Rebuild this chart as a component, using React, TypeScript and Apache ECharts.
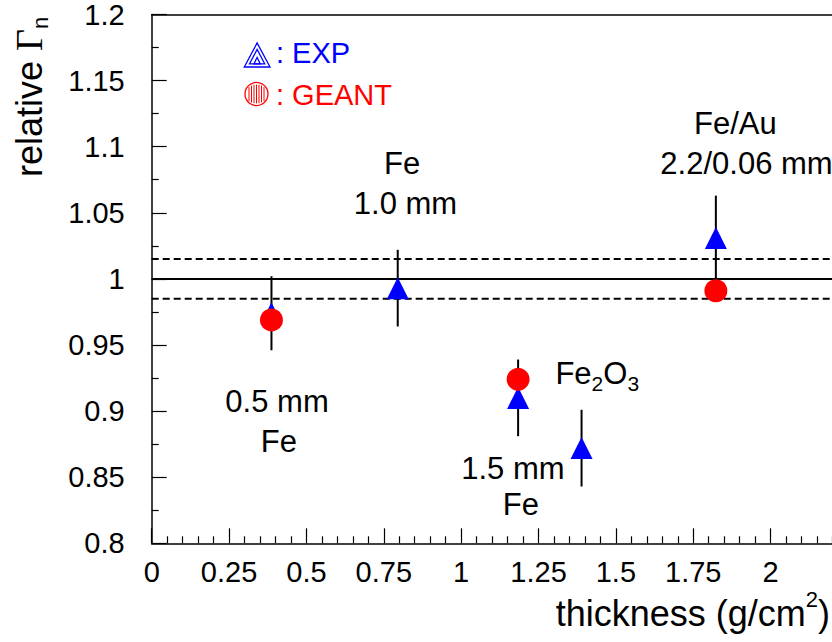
import React, { useEffect, useRef } from "react";
import * as echarts from "echarts";

const FONT = '"Liberation Sans", Arial, Helvetica, sans-serif';

// EXP (blue triangles) with vertical error bars
const expX = [0.387, 0.795, 1.184, 1.389, 1.823];
const expY = [0.974, 0.993, 0.910, 0.872, 1.031];
const expErr = [0.028, 0.029, 0.029, 0.029, 0.032];

// GEANT (red circles)
const geantX = [0.387, 1.184, 1.823];
const geantY = [0.969, 0.924, 0.991];

// reference levels
const refSolid = [1.0];
const refDashed = [0.985, 1.015];

// axis ranges and tick labels
const xMin = 0;
const xMax = 2.25;
const xTickValues = [0, 0.25, 0.5, 0.75, 1, 1.25, 1.5, 1.75, 2];
const yTickValues = [0.8, 0.85, 0.9, 0.95, 1, 1.05, 1.1, 1.15, 1.2];

// text annotations (data coordinates)
const annotX = [0.809, 0.82, 0.405, 0.411, 1.167, 1.193, 1.886, 1.922];
const annotY = [1.0874, 1.0571, 0.9075, 0.8772, 0.8568, 0.8296, 1.1176, 1.0874];
const annotText = ["Fe", "1.0 mm", "0.5 mm", "Fe", "1.5 mm", "Fe", "Fe/Au", "2.2/0.06 mm"];
const formulaPos = [1.303, 0.9283];
const formulaParts = ["Fe", "2", "O", "3"];

export default function App() {
  const ref = useRef<HTMLDivElement>(null);

  useEffect(() => {
    const chart = echarts.init(ref.current!, null, { renderer: "svg" });

    const errData = expX.map((x, i) => [x, expY[i], expErr[i]]);

    // legend icon decorations
    const cx = 256.5, cy = 94, r = 11.5;
    const hatch: any[] = [];
    for (let dx = -7.5; dx <= 7.6; dx += 2.5) {
      const h = Math.sqrt(r * r - dx * dx) * 0.82;
      hatch.push({
        type: "line",
        silent: true,
        shape: { x1: cx + dx, y1: cy - h, x2: cx + dx, y2: cy + h },
        style: { stroke: "#ff0000", lineWidth: 1 },
      });
    }

    const refLineSeries = [
      ...refSolid.map((v) => ({ v, dash: "solid" as any })),
      ...refDashed.map((v) => ({ v, dash: [7, 4] as any })),
    ].map((d) => ({
      type: "line",
      silent: true,
      z: 1,
      symbol: "none",
      lineStyle: { color: "#000", width: 2, type: d.dash },
      data: [
        [xMin, d.v],
        [xMax, d.v],
      ],
    }));

    const option: any = {
      animation: false,
      backgroundColor: "#ffffff",
      textStyle: { fontFamily: FONT },
      grid: { left: 151.7, top: 14, right: 0, bottom: 98.7, containLabel: false },
      xAxis: [
        {
          type: "value",
          min: xMin,
          max: xMax,
          interval: 0.25,
          axisLine: { show: true, onZero: false, lineStyle: { color: "#000", width: 1.5 } },
          axisTick: { show: true, inside: true, length: 15, lineStyle: { color: "#000", width: 1.2 } },
          minorTick: { show: true, splitNumber: 5, length: 7, lineStyle: { color: "#000", width: 1.2 } },
          splitLine: { show: false },
          axisLabel: {
            show: true,
            margin: 14,
            color: "#000",
            fontSize: 29,
            fontFamily: FONT,
            showMaxLabel: false,
            formatter: (v: number) => {
              const m = xTickValues.find((t) => Math.abs(t - v) < 1e-6);
              return m === undefined ? "" : String(m);
            },
          },
        },
        {
          type: "value",
          position: "top",
          min: xMin,
          max: xMax,
          axisLine: { show: true, onZero: false, lineStyle: { color: "#000", width: 1.5 } },
          axisTick: { show: false },
          axisLabel: { show: false },
          splitLine: { show: false },
        },
      ],
      yAxis: {
        type: "value",
        min: 0.8,
        max: 1.2,
        interval: 0.05,
        axisLine: { show: true, onZero: false, lineStyle: { color: "#000", width: 1.5 } },
        axisTick: { show: true, inside: true, length: 15, lineStyle: { color: "#000", width: 1.2 } },
        minorTick: { show: true, splitNumber: 2, length: 7, lineStyle: { color: "#000", width: 1.2 } },
        splitLine: { show: false },
        axisLabel: {
          margin: 27,
          color: "#000",
          fontSize: 29,
          fontFamily: FONT,
          formatter: (v: number) => {
            const m = yTickValues.find((t) => Math.abs(t - v) < 1e-6);
            return m === undefined ? "" : String(m);
          },
        },
      },
      series: [
        ...refLineSeries,
        {
          type: "custom",
          z: 2,
          silent: true,
          data: errData,
          renderItem: (params: any, api: any) => {
            const x = api.value(0);
            const y = api.value(1);
            const e = api.value(2);
            const p1 = api.coord([x, y + e]);
            const p2 = api.coord([x, y - e]);
            return {
              type: "line",
              shape: { x1: p1[0], y1: p1[1], x2: p2[0], y2: p2[1] },
              style: { stroke: "#000", lineWidth: 2 },
            };
          },
        },
        {
          name: "EXP",
          type: "scatter",
          z: 3,
          symbol: "triangle",
          symbolSize: 22,
          itemStyle: { color: "#0000ff", opacity: 1 },
          data: expX.map((x, i) => [x, expY[i]]),
        },
        {
          name: "GEANT",
          type: "scatter",
          z: 4,
          symbol: "circle",
          symbolSize: 23,
          itemStyle: { color: "#ff0000", opacity: 1 },
          data: geantX.map((x, i) => [x, geantY[i]]),
        },
        {
          type: "scatter",
          z: 5,
          silent: true,
          symbolSize: 1,
          itemStyle: { color: "rgba(0,0,0,0)", opacity: 1 },
          label: {
            show: true,
            position: "inside",
            color: "#000",
            opacity: 1,
            textBorderWidth: 0,
            fontSize: 31,
            fontFamily: FONT,
            formatter: (p: any) => annotText[p.dataIndex],
          },
          data: annotX.map((x, i) => [x, annotY[i]]),
        },
        {
          type: "scatter",
          z: 5,
          silent: true,
          symbolSize: 1,
          itemStyle: { color: "rgba(0,0,0,0)", opacity: 1 },
          label: {
            show: true,
            position: "right",
            distance: 0,
            color: "#000",
            opacity: 1,
            formatter: `{a|${formulaParts[0]}}{s|${formulaParts[1]}}{a|${formulaParts[2]}}{s|${formulaParts[3]}}`,
            rich: {
              a: { fontSize: 31, lineHeight: 40, fontFamily: FONT, color: "#000" },
              s: { fontSize: 21, lineHeight: 18, verticalAlign: "bottom", fontFamily: FONT, color: "#000" },
            },
          },
          data: [formulaPos],
        },
      ],
      graphic: [
        // y-axis title
        {
          type: "text",
          x: 29,
          y: 177,
          rotation: Math.PI / 2,
          silent: true,
          style: {
            text: "{a|relative }{g|Γ}{n|n}",
            align: "left",
            verticalAlign: "middle",
            rich: {
              a: { fontSize: 36, lineHeight: 44, fontFamily: FONT, fill: "#000" },
              g: { fontSize: 38, lineHeight: 44, fontFamily: '"Liberation Serif", "Times New Roman", serif', fill: "#000" },
              n: { fontSize: 22, lineHeight: 16, verticalAlign: "bottom", fontFamily: FONT, fill: "#000" },
            },
          },
        },
        // x-axis title
        {
          type: "text",
          x: 830,
          y: 613,
          silent: true,
          style: {
            text: "{a|thickness (g/cm}{s|2}{a|)}",
            align: "right",
            verticalAlign: "middle",
            rich: {
              a: { fontSize: 36, lineHeight: 50, fontFamily: FONT, fill: "#000" },
              s: { fontSize: 22, lineHeight: 18, verticalAlign: "top", fontFamily: FONT, fill: "#000" },
            },
          },
        },
        // legend: EXP icon (nested triangles)
        {
          type: "polygon",
          silent: true,
          shape: { points: [[244.3, 67], [270, 67], [257.1, 43]] },
          style: { fill: "none", stroke: "#0000ff", lineWidth: 1.3 },
        },
        {
          type: "polygon",
          silent: true,
          shape: { points: [[249.5, 63.8], [264.7, 63.8], [257.1, 49.5]] },
          style: { fill: "none", stroke: "#0000ff", lineWidth: 1.3 },
        },
        {
          type: "polygon",
          silent: true,
          shape: { points: [[254, 63.8], [260.2, 63.8], [257.1, 57.5]] },
          style: { fill: "none", stroke: "#0000ff", lineWidth: 1.3 },
        },
        {
          type: "text",
          x: 276,
          y: 53,
          silent: true,
          style: { text: ": EXP", fill: "#0000ff", fontSize: 29, fontFamily: FONT, align: "left", verticalAlign: "middle" },
        },
        // legend: GEANT icon (hatched circle)
        {
          type: "circle",
          silent: true,
          shape: { cx, cy, r },
          style: { fill: "none", stroke: "#ff0000", lineWidth: 1.3 },
        },
        ...hatch,
        {
          type: "text",
          x: 276,
          y: 95,
          silent: true,
          style: { text: ": GEANT", fill: "#ff0000", fontSize: 29, fontFamily: FONT, align: "left", verticalAlign: "middle" },
        },
      ],
    };

    chart.setOption(option);
    return () => chart.dispose();
  }, []);

  return (
    <div
      style={{ position: "fixed", left: 0, top: 0, width: 832, height: 642, overflow: "hidden", background: "#fff" }}
    >
      <div ref={ref} style={{ position: "absolute", left: 0, top: 0, width: 847.5, height: 642 }} />
    </div>
  );
}
